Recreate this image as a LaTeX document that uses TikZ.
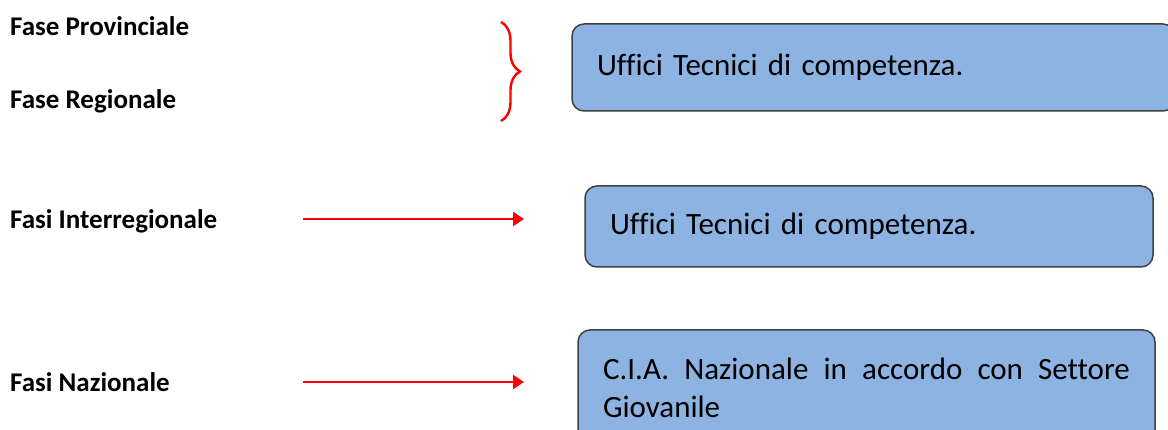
\documentclass[tikz,border=0pt]{standalone}
\usepackage{fontspec}
\setmainfont{Carlito}[Ligatures={NoCommon}]
\usetikzlibrary{decorations.pathreplacing,arrows.meta}
\definecolor{boxfill}{HTML}{8DB3E2}
\definecolor{boxline}{HTML}{404040}
\begin{document}
\begin{tikzpicture}[x=1pt,y=-1pt,
  lbl/.style={anchor=west,inner sep=0pt,font=\fontsize{27}{32}\selectfont\bfseries},
  bluebox/.style={draw=boxline,line width=1.5pt,fill=boxfill,rounded corners=12pt,
    inner xsep=25pt,inner ysep=0pt,align=left,font=\fontsize{31}{38}\selectfont},
  redarrow/.style={draw=red,line width=2.4pt,-{Triangle[length=11pt,width=14pt]}}]
\useasboundingbox (0,0) rectangle (1168,430);
\clip (0,0) rectangle (1168,430);
\node[lbl] (prov) at (10,26) {Fase Provinciale};
\node[lbl] (reg) at (10,101) {Fase Regionale};
\node[lbl] (inter) at (10,221) {Fasi Interregionale};
\node[lbl] (naz) at (10,382) {Fasi Nazionale};
\node[bluebox,minimum width=603pt,minimum height=87pt,text width=553pt] (b1) at (873.5,67.5) {\raisebox{-4pt}{Uffici Tecnici di competenza.}};
\node[bluebox,minimum width=568pt,minimum height=81pt,text width=518pt] (b2) at (869,226.5) {\raisebox{-4pt}{Uffici Tecnici di competenza.}};
\node[bluebox,minimum width=577pt,minimum height=115pt,text width=527pt] (b3) at (866.5,387.5) {\hbox to 527pt{C.I.A.\hfill Nazionale\hfill in\hfill accordo\hfill con\hfill Settore}\\Giovanile};
\coordinate (bt) at (501,22);
\coordinate (bb) at (501,121);
\draw[red,line width=2.4pt,decorate,decoration={brace,amplitude=19pt}] (bt) -- (bb);
\coordinate (a1s) at (303,219);
\coordinate (a1e) at (524,219);
\coordinate (a2s) at (303,382);
\coordinate (a2e) at (524,382);
\draw[redarrow] (a1s) -- (a1e);
\draw[redarrow] (a2s) -- (a2e);
\end{tikzpicture}
\end{document}
